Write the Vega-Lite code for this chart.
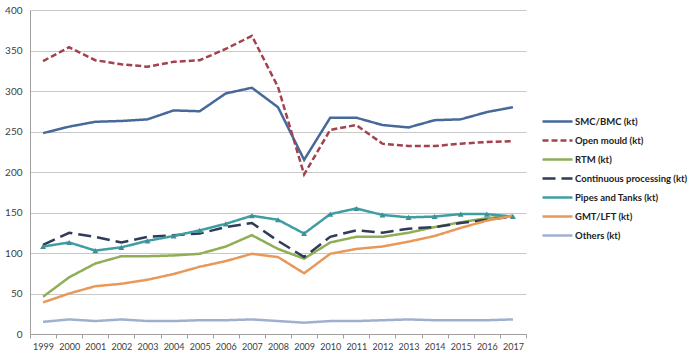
{
  "$schema": "https://vega.github.io/schema/vega-lite/v6.json",
  "autosize": "none",
  "width": 496,
  "height": 324,
  "padding": {"left": 30, "top": 10, "right": 166, "bottom": 21},
  "background": "white",
  "config": {"font": "Lato", "view": {"stroke": null}},
  "data": {"values": [
    {"year":"1999","series":"SMC/BMC (kt)","value":248},{"year":"2000","series":"SMC/BMC (kt)","value":256},{"year":"2001","series":"SMC/BMC (kt)","value":262},{"year":"2002","series":"SMC/BMC (kt)","value":263},{"year":"2003","series":"SMC/BMC (kt)","value":265},{"year":"2004","series":"SMC/BMC (kt)","value":276},{"year":"2005","series":"SMC/BMC (kt)","value":275},{"year":"2006","series":"SMC/BMC (kt)","value":297},{"year":"2007","series":"SMC/BMC (kt)","value":304},{"year":"2008","series":"SMC/BMC (kt)","value":280},{"year":"2009","series":"SMC/BMC (kt)","value":215},{"year":"2010","series":"SMC/BMC (kt)","value":267},{"year":"2011","series":"SMC/BMC (kt)","value":267},{"year":"2012","series":"SMC/BMC (kt)","value":258},{"year":"2013","series":"SMC/BMC (kt)","value":255},{"year":"2014","series":"SMC/BMC (kt)","value":264},{"year":"2015","series":"SMC/BMC (kt)","value":265},{"year":"2016","series":"SMC/BMC (kt)","value":274},{"year":"2017","series":"SMC/BMC (kt)","value":280},
    {"year":"1999","series":"Open mould (kt)","value":337},{"year":"2000","series":"Open mould (kt)","value":354},{"year":"2001","series":"Open mould (kt)","value":338},{"year":"2002","series":"Open mould (kt)","value":333},{"year":"2003","series":"Open mould (kt)","value":330},{"year":"2004","series":"Open mould (kt)","value":336},{"year":"2005","series":"Open mould (kt)","value":338},{"year":"2006","series":"Open mould (kt)","value":352},{"year":"2007","series":"Open mould (kt)","value":368},{"year":"2008","series":"Open mould (kt)","value":305},{"year":"2009","series":"Open mould (kt)","value":197},{"year":"2010","series":"Open mould (kt)","value":252},{"year":"2011","series":"Open mould (kt)","value":258},{"year":"2012","series":"Open mould (kt)","value":235},{"year":"2013","series":"Open mould (kt)","value":232},{"year":"2014","series":"Open mould (kt)","value":232},{"year":"2015","series":"Open mould (kt)","value":235},{"year":"2016","series":"Open mould (kt)","value":237},{"year":"2017","series":"Open mould (kt)","value":238},
    {"year":"1999","series":"RTM (kt)","value":46},{"year":"2000","series":"RTM (kt)","value":70},{"year":"2001","series":"RTM (kt)","value":87},{"year":"2002","series":"RTM (kt)","value":96},{"year":"2003","series":"RTM (kt)","value":96},{"year":"2004","series":"RTM (kt)","value":97},{"year":"2005","series":"RTM (kt)","value":99},{"year":"2006","series":"RTM (kt)","value":108},{"year":"2007","series":"RTM (kt)","value":122},{"year":"2008","series":"RTM (kt)","value":105},{"year":"2009","series":"RTM (kt)","value":93},{"year":"2010","series":"RTM (kt)","value":113},{"year":"2011","series":"RTM (kt)","value":120},{"year":"2012","series":"RTM (kt)","value":120},{"year":"2013","series":"RTM (kt)","value":125},{"year":"2014","series":"RTM (kt)","value":132},{"year":"2015","series":"RTM (kt)","value":138},{"year":"2016","series":"RTM (kt)","value":143},{"year":"2017","series":"RTM (kt)","value":146},
    {"year":"1999","series":"Continuous processing (kt)","value":110},{"year":"2000","series":"Continuous processing (kt)","value":125},{"year":"2001","series":"Continuous processing (kt)","value":120},{"year":"2002","series":"Continuous processing (kt)","value":113},{"year":"2003","series":"Continuous processing (kt)","value":120},{"year":"2004","series":"Continuous processing (kt)","value":122},{"year":"2005","series":"Continuous processing (kt)","value":124},{"year":"2006","series":"Continuous processing (kt)","value":132},{"year":"2007","series":"Continuous processing (kt)","value":137},{"year":"2008","series":"Continuous processing (kt)","value":115},{"year":"2009","series":"Continuous processing (kt)","value":95},{"year":"2010","series":"Continuous processing (kt)","value":120},{"year":"2011","series":"Continuous processing (kt)","value":128},{"year":"2012","series":"Continuous processing (kt)","value":125},{"year":"2013","series":"Continuous processing (kt)","value":130},{"year":"2014","series":"Continuous processing (kt)","value":132},{"year":"2015","series":"Continuous processing (kt)","value":137},{"year":"2016","series":"Continuous processing (kt)","value":141},{"year":"2017","series":"Continuous processing (kt)","value":145},
    {"year":"1999","series":"Pipes and Tanks (kt)","value":108},{"year":"2000","series":"Pipes and Tanks (kt)","value":113},{"year":"2001","series":"Pipes and Tanks (kt)","value":103},{"year":"2002","series":"Pipes and Tanks (kt)","value":107},{"year":"2003","series":"Pipes and Tanks (kt)","value":115},{"year":"2004","series":"Pipes and Tanks (kt)","value":121},{"year":"2005","series":"Pipes and Tanks (kt)","value":128},{"year":"2006","series":"Pipes and Tanks (kt)","value":136},{"year":"2007","series":"Pipes and Tanks (kt)","value":146},{"year":"2008","series":"Pipes and Tanks (kt)","value":141},{"year":"2009","series":"Pipes and Tanks (kt)","value":124},{"year":"2010","series":"Pipes and Tanks (kt)","value":148},{"year":"2011","series":"Pipes and Tanks (kt)","value":155},{"year":"2012","series":"Pipes and Tanks (kt)","value":147},{"year":"2013","series":"Pipes and Tanks (kt)","value":144},{"year":"2014","series":"Pipes and Tanks (kt)","value":145},{"year":"2015","series":"Pipes and Tanks (kt)","value":148},{"year":"2016","series":"Pipes and Tanks (kt)","value":148},{"year":"2017","series":"Pipes and Tanks (kt)","value":145},
    {"year":"1999","series":"GMT/LFT (kt)","value":39},{"year":"2000","series":"GMT/LFT (kt)","value":50},{"year":"2001","series":"GMT/LFT (kt)","value":59},{"year":"2002","series":"GMT/LFT (kt)","value":62},{"year":"2003","series":"GMT/LFT (kt)","value":67},{"year":"2004","series":"GMT/LFT (kt)","value":74},{"year":"2005","series":"GMT/LFT (kt)","value":83},{"year":"2006","series":"GMT/LFT (kt)","value":90},{"year":"2007","series":"GMT/LFT (kt)","value":99},{"year":"2008","series":"GMT/LFT (kt)","value":95},{"year":"2009","series":"GMT/LFT (kt)","value":75},{"year":"2010","series":"GMT/LFT (kt)","value":99},{"year":"2011","series":"GMT/LFT (kt)","value":105},{"year":"2012","series":"GMT/LFT (kt)","value":108},{"year":"2013","series":"GMT/LFT (kt)","value":114},{"year":"2014","series":"GMT/LFT (kt)","value":121},{"year":"2015","series":"GMT/LFT (kt)","value":131},{"year":"2016","series":"GMT/LFT (kt)","value":140},{"year":"2017","series":"GMT/LFT (kt)","value":146},
    {"year":"1999","series":"Others (kt)","value":15},{"year":"2000","series":"Others (kt)","value":18},{"year":"2001","series":"Others (kt)","value":16},{"year":"2002","series":"Others (kt)","value":18},{"year":"2003","series":"Others (kt)","value":16},{"year":"2004","series":"Others (kt)","value":16},{"year":"2005","series":"Others (kt)","value":17},{"year":"2006","series":"Others (kt)","value":17},{"year":"2007","series":"Others (kt)","value":18},{"year":"2008","series":"Others (kt)","value":16},{"year":"2009","series":"Others (kt)","value":14},{"year":"2010","series":"Others (kt)","value":16},{"year":"2011","series":"Others (kt)","value":16},{"year":"2012","series":"Others (kt)","value":17},{"year":"2013","series":"Others (kt)","value":18},{"year":"2014","series":"Others (kt)","value":17},{"year":"2015","series":"Others (kt)","value":17},{"year":"2016","series":"Others (kt)","value":17},{"year":"2017","series":"Others (kt)","value":18}
  ]},
  "encoding": {
    "x": {"field": "year", "type": "ordinal", "bandPosition": 0.5,
      "scale": {"type": "band", "paddingInner": 0, "paddingOuter": 0},
      "axis": {"title": null, "labelAngle": 0, "labelFontSize": 9, "labelColor": "#404040", "domainColor": "#a0a0a0", "tickColor": "#a0a0a0", "tickBand": "extent", "tickSize": 4, "labelPadding": 4}},
    "y": {"field": "value", "type": "quantitative",
      "scale": {"domain": [0, 400], "nice": false},
      "axis": {"title": null, "values": [0,50,100,150,200,250,300,350,400], "labelFontSize": 10, "labelColor": "#404040", "ticks": false, "labelPadding": 8, "domainColor": "#a0a0a0", "gridColor": "#c8c8c8"}}
  },
  "layer": [
    {
      "mark": {"type": "line", "strokeWidth": 2.5},
      "encoding": {
        "color": {"field": "series", "type": "nominal",
          "scale": {"domain": ["SMC/BMC (kt)","Open mould (kt)","RTM (kt)","Continuous processing (kt)","Pipes and Tanks (kt)","GMT/LFT (kt)","Others (kt)"],
                    "range": ["#46699a","#a3414c","#8fae55","#2f3b58","#3f9ea3","#e8995a","#9fb0cf"]},
          "legend": {"title": null, "orient": "none", "legendX": 511, "legendY": 102, "symbolType": "stroke", "symbolSize": 900, "symbolStrokeWidth": 2.5, "labelFont": "Lato", "labelFontWeight": "bold", "labelFontSize": 9.5, "labelColor": "#222222", "clipHeight": 19, "rowPadding": 0, "labelOffset": 1, "labelLimit": 200}},
        "strokeDash": {"field": "series", "type": "nominal",
          "scale": {"domain": ["SMC/BMC (kt)","Open mould (kt)","RTM (kt)","Continuous processing (kt)","Pipes and Tanks (kt)","GMT/LFT (kt)","Others (kt)"],
                    "range": [[1,0],[6,3],[1,0],[13,6],[1,0],[1,0],[1,0]]},
          "legend": {"title": null, "orient": "none", "legendX": 511, "legendY": 102, "symbolType": "stroke", "symbolSize": 900, "symbolStrokeWidth": 2.5, "labelFont": "Lato", "labelFontWeight": "bold", "labelFontSize": 9.5, "labelColor": "#222222", "clipHeight": 19, "rowPadding": 0, "labelOffset": 1, "labelLimit": 200}}
      }
    },
    {
      "transform": [{"filter": "datum.series === 'Pipes and Tanks (kt)'"}],
      "mark": {"type": "point", "shape": "triangle-up", "filled": true, "size": 35, "color": "#3f8f95", "opacity": 1}
    }
  ]
}
